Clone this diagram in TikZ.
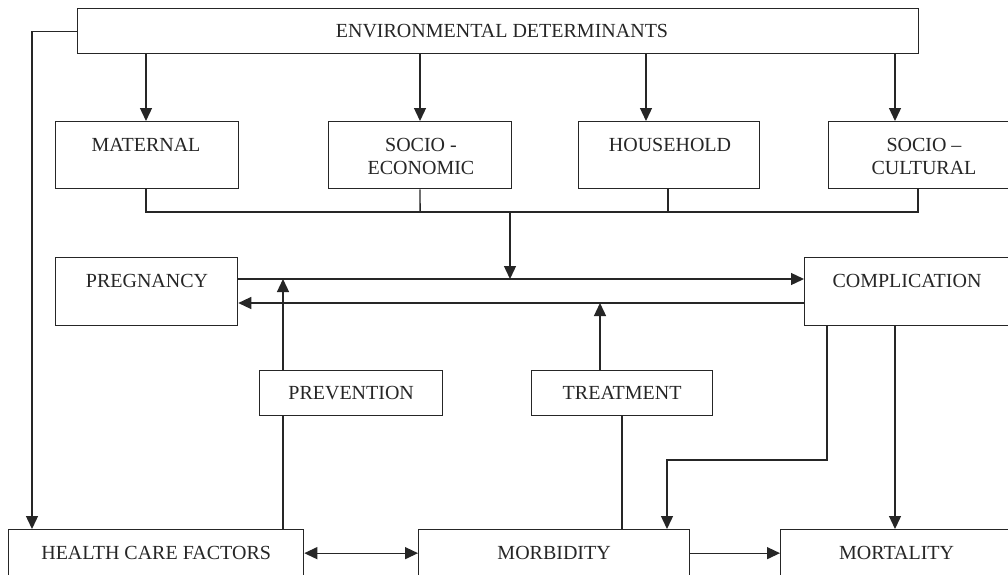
\documentclass[tikz,border=0pt]{standalone}
\usepackage{fontspec}
\setmainfont{Liberation Serif}
\usetikzlibrary{arrows.meta}
\definecolor{ink}{HTML}{262626}
\begin{document}
\begin{tikzpicture}[x=1pt,y=-1pt,
  box/.style={draw=ink, line width=1.3pt, rectangle, inner sep=0pt, anchor=north west,
    font=\fontsize{20}{23}\selectfont, text=ink},
  lbl/.style={font=\fontsize{20}{23}\selectfont, text=ink, align=center, inner sep=0pt},
  con/.style={draw=ink, line width=1.3pt},
  tip/.tip={Triangle[length=13pt,width=12pt]},
  arr/.style={con, -tip},
  darr/.style={con, tip-tip},
]
\fill[white] (0,0) rectangle (1008,574);
\clip (0,0) rectangle (1008,574);

% boxes
\node[box, minimum width=841, minimum height=45] (env) at (77,8) {};
\node[lbl] (envt) at (502,31) {ENVIRONMENTAL DETERMINANTS};

\node[box, minimum width=183, minimum height=67] (mat) at (55,121) {};
\node[lbl] (matt) at (146,145) {MATERNAL};
\node[box, minimum width=183, minimum height=67] (soe) at (328,121) {};
\node[lbl] (soet) at (421,156.5) {SOCIO -\\ECONOMIC};
\node[box, minimum width=181, minimum height=67] (hh) at (578,121) {};
\node[lbl] (hht) at (670,145) {HOUSEHOLD};
\node[box, minimum width=192, minimum height=67] (soc) at (828,121) {};
\node[lbl] (soct) at (924,156.5) {SOCIO –\\CULTURAL};

\node[box, minimum width=182, minimum height=68] (preg) at (55,257) {};
\node[lbl] (pregt) at (147,281) {PREGNANCY};
\node[box, minimum width=206, minimum height=68] (comp) at (804,257) {};
\node[lbl] (compt) at (907,281) {COMPLICATION};

\node[box, minimum width=183, minimum height=45] (prev) at (259,370) {PREVENTION};
\node[box, minimum width=181, minimum height=45] (treat) at (531,370) {TREATMENT};

\node[box, minimum width=295, minimum height=47] (hcf) at (8,529) {HEALTH CARE FACTORS};
\node[box, minimum width=271, minimum height=47] (morb) at (418,529) {MORBIDITY};
\node[box, minimum width=232, minimum height=47] (mort) at (780,529) {MORTALITY};

% environmental arrows
\draw[arr] (env.south -| 146,0) -- (mat.north -| 146,0);
\draw[arr] (env.south -| 420,0) -- (soe.north -| 420,0);
\draw[arr] (env.south -| 646,0) -- (hh.north -| 646,0);
\draw[arr] (env.south -| 895,0) -- (soc.north -| 895,0);
\draw[arr] (env.west) -| ([xshift=24pt]hcf.north west);

% collector bus
\coordinate (busL) at (146,212);
\coordinate (busR) at (918,212);
\coordinate (busM) at (510,212);
\draw[con] (mat.south -| 146,0) -- (busL) -- (busR) -- (soc.south -| 918,0);
\draw[con] (soe.south -| 420,0) -- (soe.south |- busL);
\draw[con] (hh.south -| 668,0) -- (668,212);
\draw[arr] (busM) -- (510,279);

% pregnancy <-> complication
\draw[arr] (preg.east |- 0,279) -- (comp.west |- 0,279);
\draw[arr] (comp.west |- 0,303) -- (preg.east |- 0,303);

% prevention / treatment
\draw[arr] (prev.north -| 283,0) -- (283,279);
\draw[con] (prev.south -| 283,0) -- (hcf.north -| 283,0);
\draw[arr] (treat.north -| 600,0) -- (600,303);
\draw[con] (treat.south -| 622,0) -- (morb.north -| 622,0);

% complication to outcomes
\coordinate (bend) at (827,460);
\draw[arr] (comp.south -| 827,0) -- (bend) -| (morb.north -| 667,0);
\draw[arr] (comp.south -| 895,0) -- (mort.north -| 895,0);

% bottom row
\draw[darr] (hcf.east) -- (morb.west);
\draw[arr] (morb.east) -- (mort.west);
\end{tikzpicture}
\end{document}
